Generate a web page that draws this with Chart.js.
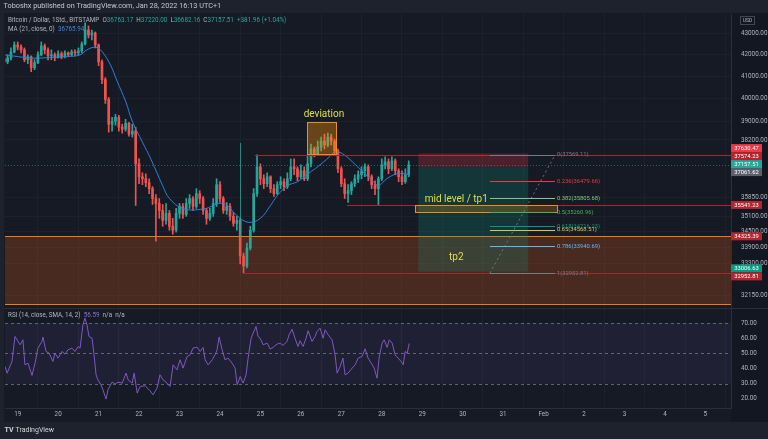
<!DOCTYPE html>
<html lang="en">

<head>
    <meta charset="UTF-8">
    <title>Bitcoin / Dollar 1h</title>
    <script src="https://cdn.jsdelivr.net/npm/chart.js"></script>
    <style>
        html, body { margin: 0; padding: 0; background: #1e222d; }
        canvas { display: block; }
    </style>
</head>

<body>
    <canvas id="myChart" width="768" height="439"></canvas>
    <script>
        // time is in hours from Jan 19 00:00 (UTC+1), 2h candles
        const candleT = [-8, -6, -4, -2, 0, 2, 4, 6, 8, 10, 12, 14, 16, 18, 20, 22, 24, 26, 28, 30, 32, 34, 36, 38, 40, 42, 44, 46, 48, 50,
            52, 54, 56, 58, 60, 62, 64, 66, 68, 70, 72, 74, 76, 78, 80, 82, 84, 86, 88, 90, 92, 94, 96, 98, 100, 102, 104, 106, 108, 110,
            112, 114, 116, 118, 120, 122, 124, 126, 128, 130, 132, 134, 136, 138, 140, 142, 144, 146, 148, 150, 152, 154, 156, 158, 160,
            162, 164, 166, 168, 170, 172, 174, 176, 178, 180, 182, 184, 186, 188, 190, 192, 194, 196, 198, 200, 202, 204, 206, 208, 210,
            212, 214, 216, 218, 220, 222, 224, 226, 228, 230, 232];
        const firstOpen = 41800;
        const closes = [41660, 41845, 42120, 42448, 42354, 42215, 41753, 41890, 41387, 41615, 41983, 42400, 42215, 41937, 41983, 41845,
            42030, 41890, 42075, 41983, 42122, 42075, 42168, 42495, 43158, 42919, 43015, 42448, 41660, 40844, 39956, 38872, 39000, 39173,
            38744, 38659, 38915, 38447, 38574, 37199, 36670, 36590, 36430, 36190, 35795, 35598, 35325, 34939, 35209, 34710, 34557, 35209,
            35481, 35170, 35598, 35795, 35481, 35992, 35795, 35325, 35016, 35209, 35598, 36350, 35795, 35325, 35481, 35093, 34824, 34939,
            33584, 33216, 33880, 34557, 35992, 37077, 36590, 36390, 36670, 36190, 35992, 36350, 36470, 36270, 36590, 37077, 36995, 36670,
            36914, 36590, 37199, 37818, 37611, 37901, 38152, 37985, 38320, 38152, 37735, 36995, 36390, 35992, 36110, 36390, 36590, 36751,
            36914, 37077, 36670, 36350, 36190, 36590, 37158, 37281, 36995, 37322, 36914, 36670, 36470, 36751, 37157.51];
        const highs = [41890, 41983, 42307, 42589, 42589, 42448, 42307, 41983, 41937, 41753, 42122, 42589, 42495, 42307, 42215, 42075,
            42168, 42122, 42168, 42122, 42215, 42215, 42307, 42589, 43496, 43350, 43158, 43062, 42495, 41753, 40934, 40044, 39173, 39302,
            39259, 38872, 39087, 38958, 38872, 38744, 37404, 36832, 36792, 36590, 36270, 35953, 35795, 35559, 35598, 35325, 35016, 35403,
            35598, 35598, 35795, 35953, 35874, 36190, 36110, 35874, 35403, 35403, 35795, 36590, 36470, 35874, 35637, 35598, 35248, 35093,
            35016, 33694, 34067, 34710, 36190, 37569, 37199, 36751, 36832, 36711, 36350, 36470, 36670, 36590, 36832, 37404, 37404, 37077,
            37158, 37077, 37570, 38027, 37901, 38152, 38320, 38447, 38489, 38447, 38236, 37818, 37077, 36590, 36350, 36470, 36751, 36914,
            37077, 37199, 37158, 36751, 36510, 36670, 37404, 37487, 37404, 37487, 37404, 36995, 36914, 36995, 37322];
        const lows = [41480, 41570, 41753, 42075, 42215, 42075, 41660, 41570, 41205, 41296, 41570, 41937, 42030, 41753, 41753, 41707,
            41845, 41799, 41845, 41890, 41937, 41937, 41983, 42075, 42448, 42777, 42682, 42307, 41480, 40665, 39781, 38532, 38574, 38829,
            38574, 38489, 38574, 38363, 38320, 35520, 36390, 36350, 36270, 35992, 35559, 34142, 35016, 34710, 34786, 34557, 34405, 34481,
            35016, 35016, 35093, 35403, 35325, 35403, 35598, 35170, 34786, 34939, 35093, 35481, 35637, 35209, 35170, 34939, 34710, 34557,
            33290, 32953, 33143, 33806, 34481, 35874, 36350, 36190, 36270, 36031, 35874, 35953, 36190, 36110, 36190, 36510, 36751, 36510,
            36590, 36510, 36510, 37077, 37487, 37570, 37735, 37818, 37901, 37985, 37570, 36832, 36270, 35795, 35637, 35953, 36270, 36430,
            36590, 36670, 36510, 36190, 35953, 35541, 36510, 36995, 36792, 36914, 36751, 36470, 36350, 36400, 36670];

        const maT = [-7.5, 9, 19, 29, 37, 41, 46, 50, 55, 59, 64, 68, 74, 79, 86, 90, 98, 110, 122, 130, 137, 144, 150, 154, 160, 166,
            173, 178, 185, 188, 193, 201, 211, 214, 219, 225, 232.3];
        const maV = [41980, 41830, 41860, 41900, 41980, 42210, 42340, 42140, 41520, 40770, 39880, 39000, 38110, 37400, 36310, 35800,
            35400, 35380, 35600, 35130, 34860, 35020, 35520, 35910, 36310, 36470, 36830, 37080, 37490, 37690, 37610, 37120, 36470, 36310,
            36590, 36790, 36765.94];

        const rsiT = [-7.5, -6.3, -3.4, -1.6, 0.2, 1.4, 3.1, 4.3, 6.1, 8.5, 10.3, 12.0, 14.4, 15.0, 16.8, 18.6, 20.9, 22.1, 23.9, 26.3,
            28.1, 29.8, 32.2, 34.0, 35.8, 37.0, 38.7, 39.9, 41.1, 42.3, 44.1, 45.3, 46.5, 47.6, 49.4, 50.6, 52.4, 53.6, 56.0, 57.8, 59.6,
            62.0, 64.3, 65.5, 67.9, 69.1, 70.9, 72.6, 75.6, 78.5, 80.3, 82.7, 84.4, 86.2, 88.6, 90.4, 92.2, 94.5, 96.3, 98.1, 100.5, 102.3,
            104.0, 106.4, 108.2, 110.0, 111.2, 113.0, 115.4, 117.1, 118.3, 119.5, 121.3, 123.0, 124.8, 127.2, 129.0, 130.2, 132.0, 133.7,
            135.5, 136.7, 138.5, 139.7, 141.4, 142.6, 143.8, 145.6, 148.0, 149.8, 151.5, 153.9, 155.7, 157.4, 159.8, 161.0, 162.8, 164.5,
            166.3, 167.5, 169.3, 171.1, 172.3, 174.6, 176.4, 177.6, 179.4, 181.2, 182.4, 184.2, 186.5, 188.3, 189.5, 191.3, 193.0, 194.2,
            196.0, 198.4, 200.2, 202.0, 204.3, 206.1, 207.9, 210.3, 211.5, 213.2, 214.4, 216.2, 217.4, 219.2, 220.4, 222.2, 223.9, 225.7,
            227.5, 228.7, 229.9, 231.1, 232.3];
        const rsiV = [41.4, 37, 44.7, 61.2, 57.9, 55.7, 59, 42.5, 43.6, 35.5, 43.6, 53.5, 57.9, 60.8, 51.3, 50.2, 44.7, 50.2, 46.9, 51.3,
            49.6, 52.4, 53.5, 51.3, 54.6, 53.5, 68.9, 73.3, 68.9, 61.2, 60.1, 49.1, 35.9, 32.6, 29.3, 26, 19.9, 26, 31.1, 29.8, 31.1,
            30.4, 37, 32.6, 30.4, 37, 23.8, 28.2, 28.7, 25.4, 22.7, 27.1, 35.9, 32.6, 30.4, 28.2, 42.5, 39.2, 45.8, 40.3, 48, 49.1,
            53.5, 54.2, 51.3, 54, 45.8, 42.5, 45.8, 49.1, 52.4, 60.8, 52.4, 45.8, 46.9, 43.6, 40.3, 29.3, 34.8, 30.4,
            35.9, 46.9, 60.1, 63.4, 67.8, 61.2, 60.1, 55.7, 56.8, 52.9, 54, 56.2, 56.8, 55.3, 57.9, 62.3, 66, 60.1,
            54.6, 58.4, 54.6, 60.1, 65, 57.9, 61.2, 64.5, 66.7, 60.1, 65.6, 62.3, 59, 49.1, 37, 41.4, 46.9, 35.9,
            37, 40.3, 42.5, 46.9, 48, 53.1, 46.9, 42.5, 40.3, 33.7, 46.9, 56.8, 59, 54, 59, 56.8, 49.1, 46.9,
            44.7, 42.5, 51.3, 50.2, 56.59];

        const dayTicks = [0, 24, 48, 72, 96, 120, 144, 168, 192, 216, 240, 264, 288, 312, 336, 360, 384, 408];
        const dayLabels = ['19', '20', '21', '22', '23', '24', '25', '26', '27', '28', '29', '30', '31', 'Feb', '2', '3', '4', '5'];
        const priceTicks = [43000, 42000, 41000, 40000, 39000, 38200, 35850, 35100, 34500, 33900, 33300, 32150];
        const rsiTicks = [20, 30, 40, 50, 60, 70];

        const tagPrices = [37630.47, 37574.23, 37157.51, 37061.62, 35541.23, 34325.39, 33006.63, 32952.81];
        const tagColors = ['#f23645', '#b2262f', '#26a69a', '#5d606b', '#b2262f', '#b2262f', '#089981', '#b2262f'];

        // drawings, in time/price
        const rayPrices = [37574.23, 35541.23, 32952.81];
        const rayFrom = [140.8, 195.4, 133.7];
        const zoneTop = 34325.39, zoneBottom = 31830;
        const devBox = { t0: 171.8, t1: 188.9, lo: 37611, hi: 38960 };
        const midBox = { t0: 235.7, t1: 320, lo: 35260.96, hi: 35541.23 };
        const position = { t0: 237.7, t1: 302.9, stop: 37630.47, entry: 37061.62, target: 33006.63 };
        const vLine = { t: 132, from: 38070, to: 34300 };
        const fibT = [280.2, 318.8];
        const fibRatios = ['0', '0.236', '0.382', '0.5', '0.618', '0.65', '0.786', '1'];
        const fibPrices = [37569.11, 36479.66, 35805.68, 35260.96, 34716.23, 34568.51, 33940.69, 32952.81];
        const fibColors = ['#787b86', '#f23645', '#81c784', '#4caf50', '#089981', '#d8c743', '#64b5f6', '#787b86'];
        const notes = [
            { text: 'deviation', t: 181.7, price: 39276 },
            { text: 'mid level / tp1', t: 260.2, price: 35770 },
            { text: 'tp2', t: 260.2, price: 33540 }
        ];
        const ohlcNames = ['O', 'H', 'L', 'C'];
        const ohlcValues = ['36763.17', '37220.00', '36682.16', '37157.51'];

        const UP = '#26a69a', DOWN = '#ef5350';
        const opens = closes.map((c, i) => i === 0 ? firstOpen : closes[i - 1]);
        const candleColors = closes.map((c, i) => c >= opens[i] ? UP : DOWN);

        function runs(ctx, x, y, parts, size) {
            ctx.font = size + 'px Roboto';
            ctx.textAlign = 'left';
            ctx.textBaseline = 'middle';
            for (const [txt, col] of parts) {
                ctx.fillStyle = col;
                ctx.fillText(txt, x, y);
                x += ctx.measureText(txt).width;
            }
        }

        const drawings = {
            id: 'drawings',
            beforeDraw(chart) {
                const ctx = chart.ctx;
                ctx.save();
                ctx.fillStyle = '#1e222d';
                ctx.fillRect(0, 0, 768, 439);
                ctx.fillStyle = '#161a25';
                ctx.fillRect(4, 13, 764, 409);
                ctx.fillStyle = '#131722';
                ctx.fillRect(731, 13, 37, 409);
                ctx.restore();
            },
            beforeDatasetsDraw(chart) {
                const { ctx, chartArea: a, scales } = chart;
                const y = scales.y, r = scales.rsi;
                const Y = p => y.getPixelForValue(p);
                ctx.save();
                // rsi band
                ctx.fillStyle = 'rgba(126,87,194,0.1)';
                ctx.fillRect(a.left, r.getPixelForValue(70), a.right - a.left, r.getPixelForValue(30) - r.getPixelForValue(70));
                ctx.beginPath();
                ctx.rect(a.left, y.top, a.right - a.left, y.bottom - y.top);
                ctx.clip();
                // support zone
                ctx.fillStyle = 'rgba(255,100,20,0.22)';
                ctx.fillRect(a.left, Y(zoneTop), a.right - a.left, Y(zoneBottom) - Y(zoneTop));
                ctx.restore();
            },
            afterDatasetsDraw(chart) {
                const { ctx, chartArea: a, scales } = chart;
                const x = scales.x, y = scales.y, r = scales.rsi;
                const X = t => x.getPixelForValue(t), Y = p => y.getPixelForValue(p);
                const hline = (x0, x1, yy, col, w, dash) => {
                    ctx.beginPath();
                    ctx.strokeStyle = col; ctx.lineWidth = w; ctx.setLineDash(dash || []);
                    ctx.moveTo(x0, Math.round(yy) + 0.5); ctx.lineTo(x1, Math.round(yy) + 0.5); ctx.stroke();
                };
                const box = (t0, t1, hi, lo, fill, stroke) => {
                    const x0 = X(t0), x1 = X(t1), y0 = Y(hi), y1 = Y(lo);
                    ctx.fillStyle = fill; ctx.fillRect(x0, y0, x1 - x0, y1 - y0);
                    if (stroke) {
                        ctx.setLineDash([]); ctx.strokeStyle = stroke; ctx.lineWidth = 1;
                        ctx.strokeRect(Math.round(x0) + 0.5, Math.round(y0) + 0.5, Math.round(x1 - x0), Math.round(y1 - y0));
                    }
                };
                ctx.save();
                // rsi levels
                [70, 50, 30].forEach(v => hline(a.left, a.right, r.getPixelForValue(v), 'rgba(120,123,134,0.75)', 1, [3, 3]));

                ctx.beginPath();
                ctx.rect(a.left, y.top, a.right - a.left, y.bottom - y.top);
                ctx.clip();
                // zone borders
                hline(a.left, a.right, Y(zoneTop), '#f57c00', 1.2);
                hline(a.left, a.right, Y(zoneBottom), '#f57c00', 1.2);
                // last price line
                hline(a.left, a.right, Y(closes[closes.length - 1]), 'rgba(38,166,154,0.55)', 1, [1, 2]);
                // rays
                rayPrices.forEach((p, i) => hline(X(rayFrom[i]), a.right, Y(p), '#a4262f', 1));
                // vertical line
                ctx.beginPath(); ctx.setLineDash([]);
                ctx.strokeStyle = 'rgba(38,166,154,0.8)'; ctx.lineWidth = 1;
                ctx.moveTo(Math.round(X(vLine.t)) + 0.5, Y(vLine.from)); ctx.lineTo(Math.round(X(vLine.t)) + 0.5, Y(vLine.to)); ctx.stroke();
                // boxes
                box(devBox.t0, devBox.t1, devBox.hi, devBox.lo, 'rgba(255,152,0,0.35)', '#e8901f');
                box(position.t0, position.t1, position.stop, position.entry, 'rgba(242,54,69,0.25)');
                box(position.t0, position.t1, position.entry, position.target, 'rgba(8,153,129,0.22)');
                box(midBox.t0, midBox.t1, midBox.hi, midBox.lo, 'rgba(255,152,0,0.22)', '#e8901f');
                // fib
                ctx.beginPath(); ctx.setLineDash([2, 3]);
                ctx.strokeStyle = 'rgba(120,123,134,0.9)'; ctx.lineWidth = 1;
                ctx.moveTo(X(fibT[0]), Y(fibPrices[fibPrices.length - 1])); ctx.lineTo(X(fibT[1]), Y(fibPrices[0])); ctx.stroke();
                ctx.font = '5.8px Roboto'; ctx.textAlign = 'left'; ctx.textBaseline = 'middle';
                fibPrices.forEach((p, i) => {
                    hline(X(fibT[0]), X(fibT[1]), Y(p), fibColors[i], 1);
                    ctx.fillStyle = fibColors[i];
                    ctx.fillText(fibRatios[i] + '(' + p.toFixed(2) + ')', X(fibT[1]) + 2, Y(p));
                });
                // notes
                ctx.font = '10px Roboto'; ctx.textAlign = 'center'; ctx.fillStyle = '#e3df3c';
                notes.forEach(n => ctx.fillText(n.text, X(n.t), Y(n.price)));
                ctx.restore();

                // pane separator
                ctx.save();
                hline(4, 768, y.bottom, '#2a2e39', 1);
                // price tags
                const H = 8;
                const items = tagPrices.map((p, i) => ({ y: Y(p), i })).sort((m, n) => m.y - n.y);
                let groups = items.map(it => ({ members: [it], top: it.y - H / 2 }));
                let merged = true;
                while (merged) {
                    merged = false;
                    for (let k = 0; k < groups.length - 1; k++) {
                        const g = groups[k], h = groups[k + 1];
                        if (g.top + g.members.length * H > h.top) {
                            const m = g.members.concat(h.members);
                            const mean = m.reduce((s, v) => s + v.y, 0) / m.length;
                            groups.splice(k, 2, { members: m, top: mean - m.length * H / 2 });
                            merged = true;
                            break;
                        }
                    }
                }
                ctx.font = '5.8px Roboto'; ctx.textAlign = 'center'; ctx.textBaseline = 'middle';
                groups.forEach(g => g.members.forEach((it, j) => {
                    const ty = g.top + j * H;
                    ctx.fillStyle = tagColors[it.i];
                    ctx.fillRect(731, ty, 31, H);
                    ctx.fillStyle = '#ffffff';
                    ctx.fillText(tagPrices[it.i].toFixed(2), 746.5, ty + H / 2 + 0.3);
                }));
                // currency box
                ctx.strokeStyle = '#434651'; ctx.lineWidth = 1;
                ctx.strokeRect(740.5, 16.5, 14, 8);
                ctx.fillStyle = '#b2b5be'; ctx.font = '5px Roboto';
                ctx.fillText('USD', 747.5, 20.8);
                ctx.restore();

                // header, legends, footer
                ctx.save();
                runs(ctx, 3.5, 6.4, [['Toboshx published on TradingView.com, Jan 28, 2022 16:13 UTC+1', '#c3c6ce']], 7.3);
                const ohlc = [['Bitcoin / Dollar, 1Std., BITSTAMP  ', '#b2b5be']];
                ohlcNames.forEach((n, i) => { ohlc.push([n, '#b2b5be']); ohlc.push([ohlcValues[i] + '  ', UP]); });
                ohlc.push(['+381.96 (+1.04%)', UP]);
                runs(ctx, 8, 20.6, ohlc, 6.3);
                runs(ctx, 8, 29, [['MA (21, close, 0)  ', '#b2b5be'], ['36765.94', '#3a86e0']], 6.3);
                runs(ctx, 8, 315.6, [['RSI (14, close, SMA, 14, 2)  ', '#b2b5be'], ['56.59', '#8e6bd2'], ['  n/a  n/a', '#b2b5be']], 6.3);
                ctx.font = 'bold 7px Roboto'; ctx.fillStyle = '#d1d4dc'; ctx.textBaseline = 'middle'; ctx.textAlign = 'left';
                ctx.fillText('TV', 4.5, 430.5);
                runs(ctx, 15.5, 430.5, [['TradingView', '#d1d4dc']], 7);
                ctx.restore();
            }
        };

        Chart.defaults.font.family = 'Roboto';
        const ctx = document.getElementById('myChart').getContext('2d');

        new Chart(ctx, {
            type: 'line',
            data: {
                datasets: [{
                    type: 'line',
                    label: 'MA 21',
                    data: maT.map((t, i) => ({ x: t, y: maV[i] })),
                    borderColor: '#2f7fd8',
                    borderWidth: 1,
                    pointRadius: 0,
                    tension: 0.4,
                    yAxisID: 'y',
                    order: 0
                }, {
                    type: 'bar',
                    label: 'bodies',
                    data: candleT.map((t, i) => ({ x: t, y: [Math.min(opens[i], closes[i]), Math.max(opens[i], closes[i])] })),
                    backgroundColor: candleColors,
                    barThickness: 2,
                    minBarLength: 1,
                    grouped: false,
                    yAxisID: 'y',
                    order: 1
                }, {
                    type: 'bar',
                    label: 'wicks',
                    data: candleT.map((t, i) => ({ x: t, y: [lows[i], highs[i]] })),
                    backgroundColor: candleColors,
                    barThickness: 1,
                    grouped: false,
                    yAxisID: 'y',
                    order: 2
                }, {
                    type: 'line',
                    label: 'RSI',
                    data: rsiT.map((t, i) => ({ x: t, y: rsiV[i] })),
                    borderColor: '#7e57c2',
                    borderWidth: 1,
                    pointRadius: 0,
                    tension: 0,
                    yAxisID: 'rsi',
                    order: 0
                }]
            },
            options: {
                responsive: false,
                devicePixelRatio: 1,
                animation: false,
                events: [],
                layout: { padding: { top: 14, left: 5, right: 0, bottom: 17 } },
                plugins: { legend: { display: false }, tooltip: { enabled: false } },
                scales: {
                    x: {
                        type: 'linear',
                        min: -7.535,
                        max: 423.2,
                        offset: false,
                        afterBuildTicks: s => { s.ticks = dayTicks.map(v => ({ value: v })); },
                        afterFit: s => { s.height = 14; },
                        ticks: {
                            callback: (v, i) => dayLabels[i],
                            color: '#b2b5be',
                            font: { size: 6.3 },
                            padding: 3,
                            maxRotation: 0,
                            autoSkip: false
                        },
                        grid: { color: '#1d212c', drawTicks: false },
                        border: { color: '#2a2e39' }
                    },
                    y: {
                        type: 'logarithmic',
                        position: 'right',
                        stack: 'panes',
                        stackWeight: 294,
                        min: 31700,
                        max: 43930,
                        afterBuildTicks: s => { s.ticks = priceTicks.map(v => ({ value: v })); },
                        afterFit: s => { s.width = 37; },
                        ticks: {
                            callback: v => v.toFixed(2),
                            color: '#b2b5be',
                            font: { size: 6.3 },
                            padding: 10,
                            autoSkip: false
                        },
                        grid: { color: '#1d212c', drawTicks: false },
                        border: { color: '#2a2e39' }
                    },
                    rsi: {
                        type: 'linear',
                        position: 'right',
                        stack: 'panes',
                        stackWeight: 100,
                        min: 14,
                        max: 80,
                        afterBuildTicks: s => { s.ticks = rsiTicks.map(v => ({ value: v })); },
                        afterFit: s => { s.width = 37; },
                        ticks: {
                            callback: v => v.toFixed(2),
                            color: '#b2b5be',
                            font: { size: 6.3 },
                            padding: 10,
                            autoSkip: false
                        },
                        grid: { display: false, drawTicks: false },
                        border: { color: '#2a2e39' }
                    }
                }
            },
            plugins: [drawings]
        });
    </script>
</body>

</html>
